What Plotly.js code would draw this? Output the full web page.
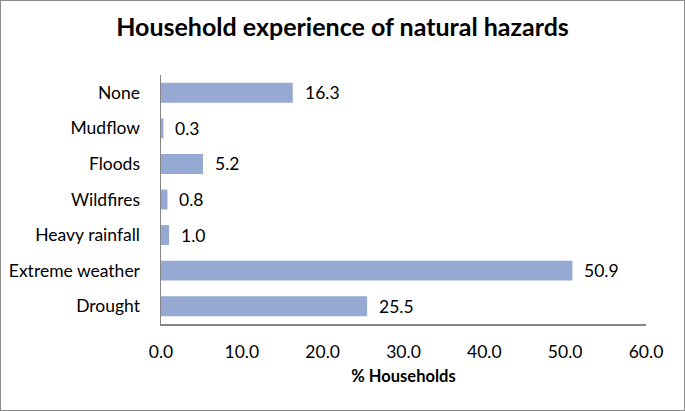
<!DOCTYPE html>
<html>
<head>
<meta charset="utf-8">
<script src="https://cdn.plot.ly/plotly-3.0.1.min.js"></script>
<style>
  body { margin: 0; padding: 0; background: #fff; }
  #chart { width: 683px; height: 409px; border: 1px solid #8c8c8c; }
</style>
</head>
<body>
<div id="chart"></div>
<script>
// hazards, bottom to top as drawn
const hazards = ['Drought', 'Extreme weather', 'Heavy rainfall', 'Wildfires', 'Floods', 'Mudflow', 'None'];
const pctHouseholds = [25.5, 50.9, 1.0, 0.8, 5.2, 0.3, 16.3];

const fontFam = 'Lato, "Open Sans", sans-serif';

const bars = {
    type: 'bar',
    orientation: 'h',
    x: pctHouseholds,
    y: hazards,
    marker: {color: '#95a9d3'},
    hoverinfo: 'x+y'
};

// value labels sit a little right of each bar end
const labels = pctHouseholds.map((v, i) => ({
    x: v,
    y: hazards[i],
    xref: 'x',
    yref: 'y',
    text: v.toFixed(1),
    showarrow: false,
    xanchor: 'left',
    xshift: 10,
    font: {family: fontFam, size: 17.5, color: '#000'}
}));

const layout = {
    width: 683,
    height: 409,
    margin: {l: 160, r: 38, t: 74, b: 86},
    paper_bgcolor: '#fff',
    plot_bgcolor: '#fff',
    showlegend: false,
    bargap: 0.44,
    font: {family: fontFam, size: 17.5, color: '#000'},
    title: {
        text: '<b>Household experience of natural hazards</b>',
        font: {family: fontFam, size: 25, color: '#000'},
        x: 0.5,
        xanchor: 'center',
        y: 0.935,
        yanchor: 'middle'
    },
    xaxis: {
        range: [0, 60],
        dtick: 10,
        tickformat: '.1f',
        showgrid: false,
        zeroline: false,
        showline: true,
        linecolor: '#868686',
        linewidth: 1.5,
        ticks: '',
        ticklabelstandoff: 11,
        tickfont: {family: fontFam, size: 17.5},
        title: {
            text: '<b>% Households</b>',
            font: {family: fontFam, size: 16.5},
            standoff: 10
        }
    },
    yaxis: {
        showgrid: false,
        zeroline: false,
        showline: true,
        linecolor: '#868686',
        linewidth: 1.5,
        ticks: '',
        ticklabelstandoff: 16,
        tickfont: {family: fontFam, size: 17.5}
    },
    annotations: labels
};

Plotly.newPlot('chart', [bars], layout, {displayModeBar: false, staticPlot: true});
</script>
</body>
</html>
